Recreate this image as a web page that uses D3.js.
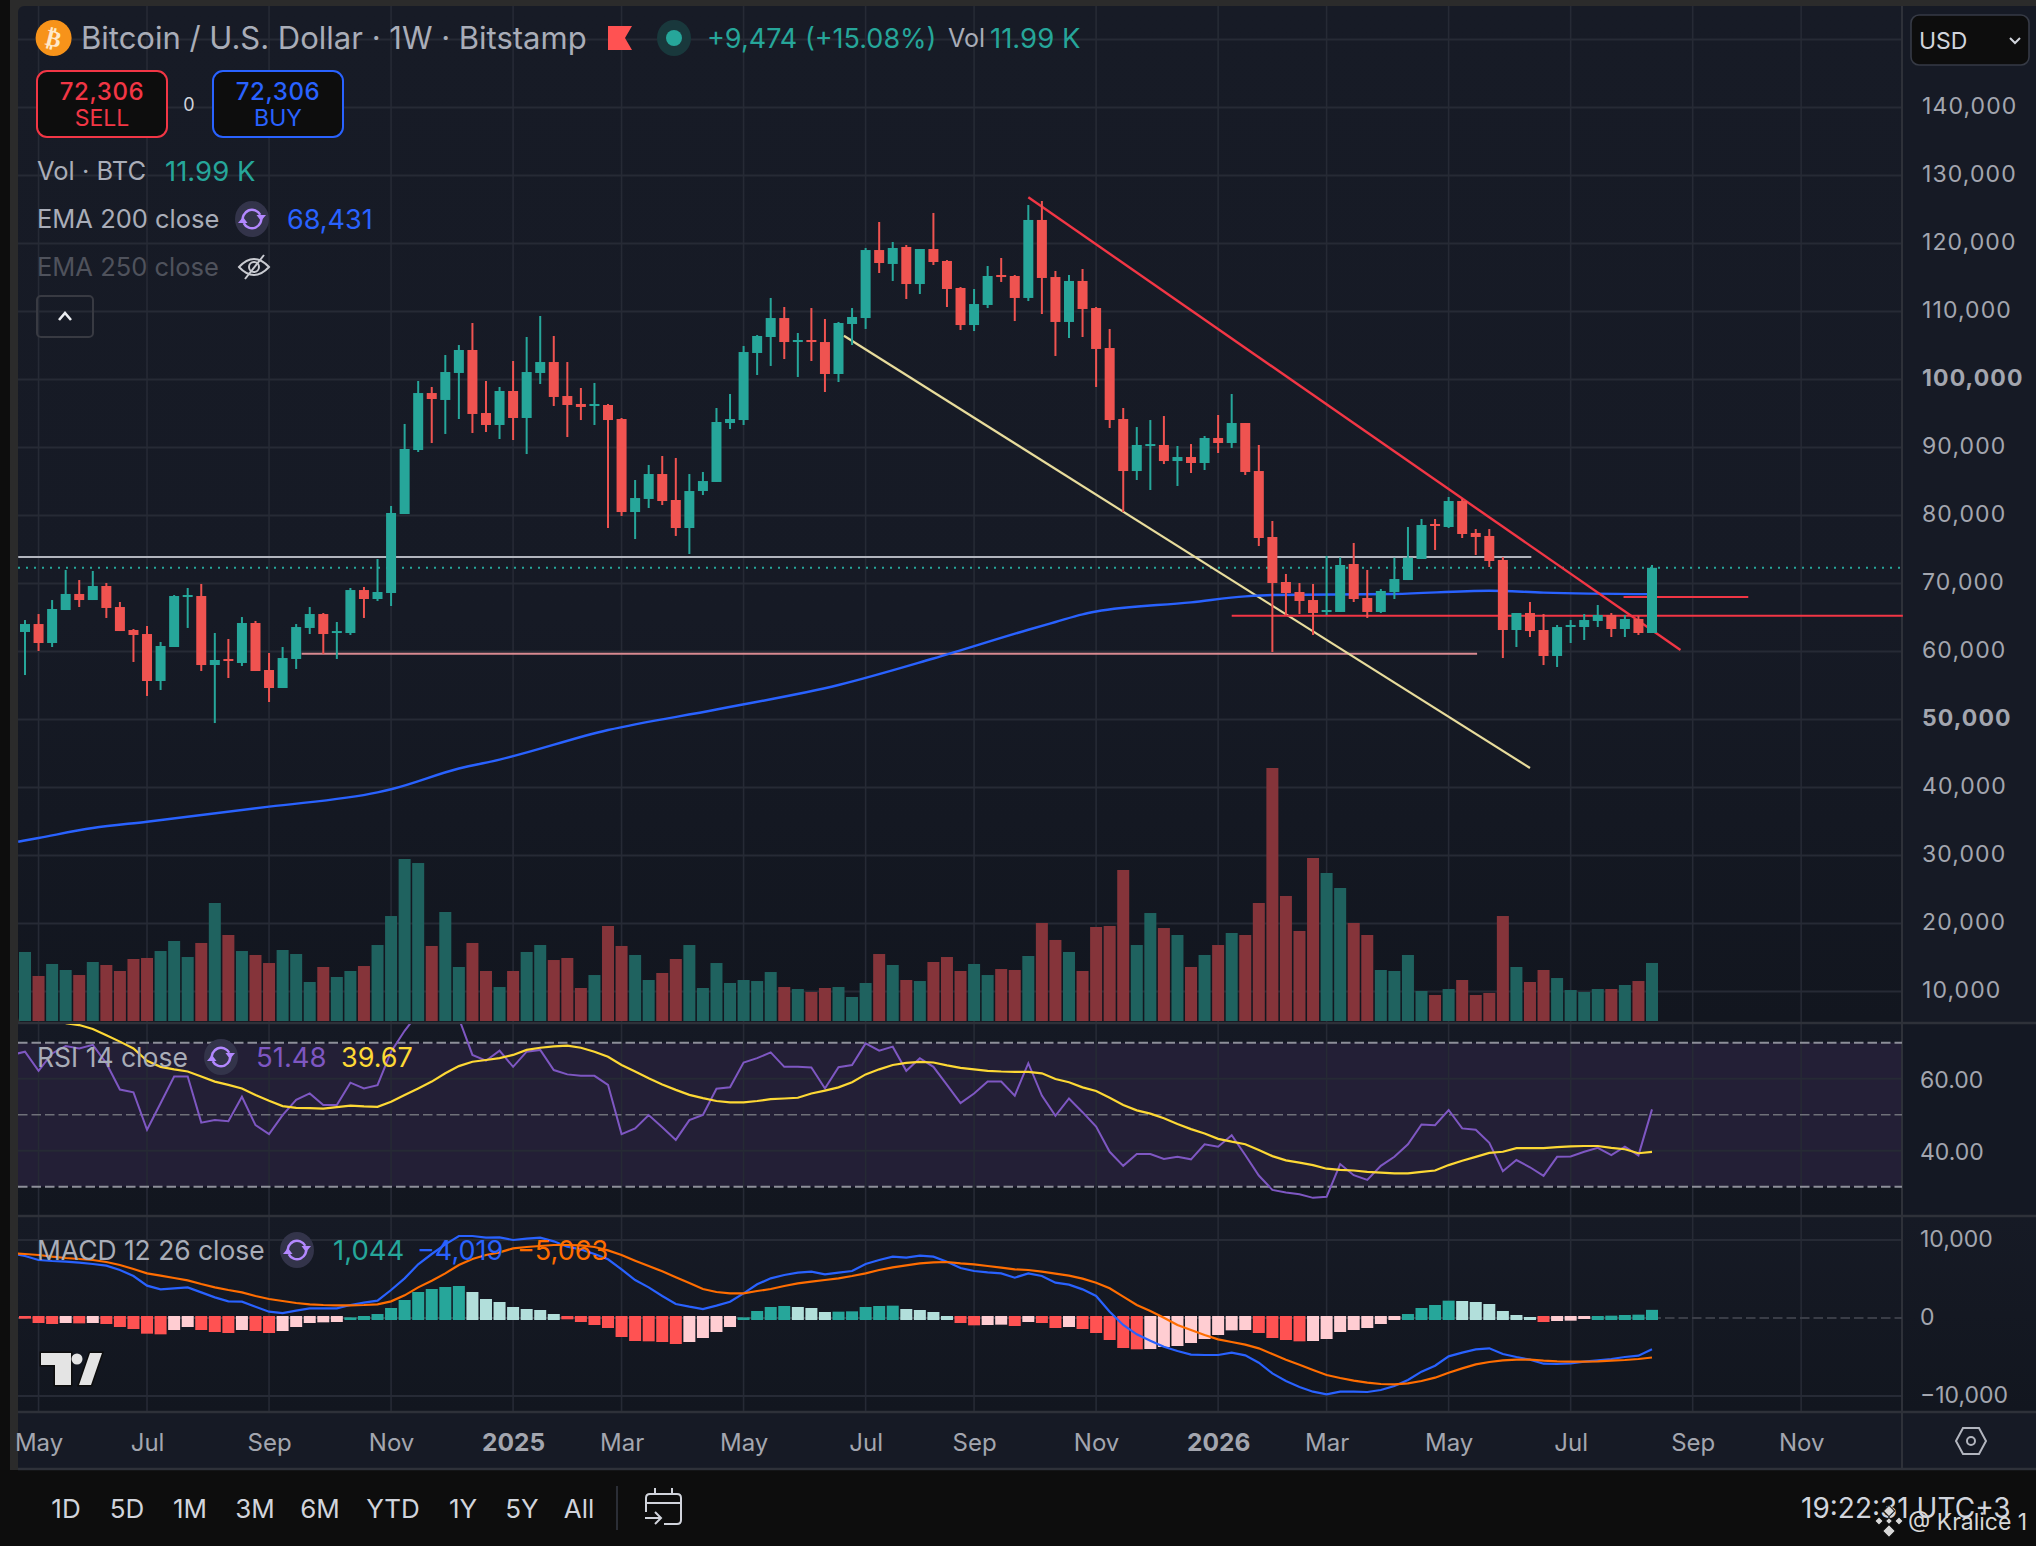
<!DOCTYPE html>
<html>

<head>
  <meta charset="utf-8">
  <script src="https://d3js.org/d3.v7.min.js"></script>
  <title>Bitcoin / U.S. Dollar</title>
  <style>
    body {
      margin: 0;
      background: #0d0d0d;
    }

    svg {
      display: block;
    }

    text {
      font-family: 'Inter', sans-serif;
    }

    .axis text {
      font-size: 23px;
      fill: #a3a6af;
    }

    .axis path,
    .axis line {
      display: none;
    }
  </style>
</head>

<body>

  <div id="chart"></div>

  <script>
    // weekly candles, one value per week
    const open = [62870, 64040, 61250, 66100, 68460, 67570, 69630, 66540, 63160, 62570, 55660, 60660, 68010, 68160, 58010, 58900, 58310, 64190, 57280, 54630, 58900, 63460, 65510, 62720, 62720, 69040, 67720, 68600, 80220, 89630, 98010, 96990, 100960, 104340, 95070, 93310, 98310, 94340, 100960, 102570, 97570, 96400, 96100, 96250, 94190, 80510, 82430, 86100, 82280, 78160, 83600, 84930, 93600, 94040, 103900, 106250, 109040, 105510, 105810, 105510, 100810, 108160, 109040, 119040, 116990, 119490, 114040, 119190, 117430, 113460, 108010, 110960, 115370, 115220, 111990, 123460, 115070, 108460, 114490, 110510, 104630, 94190, 86540, 90220, 90370, 88010, 88600, 87720, 91400, 90660, 93600, 86540, 76840, 70220, 68750, 67570, 65810, 65810, 72870, 67870, 65810, 68750, 70510, 73600, 78750, 78310, 82130, 77430, 76990, 73460, 63160, 65660, 63160, 59340, 63600, 63600, 64490, 65370, 63310, 64780, 62720];
    const high = [64630, 65510, 67570, 71990, 70510, 71840, 70070, 67280, 63310, 63750, 61400, 68310, 69340, 69930, 62720, 61840, 65070, 64490, 59780, 60660, 64040, 66540, 65660, 64340, 69340, 69490, 73600, 81400, 93460, 99780, 98900, 103600, 105070, 108310, 99780, 98900, 102720, 106250, 109340, 106400, 102570, 98750, 99490, 96400, 94340, 85220, 87430, 88750, 88460, 86100, 86400, 95810, 97870, 104930, 106540, 111990, 110660, 106840, 110510, 108900, 108460, 110510, 119340, 123160, 120220, 119780, 119190, 124490, 117570, 113600, 113310, 116690, 117870, 115370, 125660, 126250, 115960, 115370, 116250, 110660, 107430, 95810, 93010, 94040, 94630, 90220, 90510, 91690, 94780, 97870, 93600, 90370, 79190, 71400, 70070, 69930, 74040, 73850, 75960, 71990, 69190, 73800, 78310, 79490, 79490, 82720, 82430, 78010, 78010, 73900, 65660, 67280, 65510, 63900, 64630, 65510, 66840, 65660, 65370, 65220, 72720];
    const low = [56540, 60070, 60660, 66100, 66540, 67570, 64930, 63010, 58460, 53460, 54340, 60660, 63460, 57130, 49480, 56100, 57870, 57130, 52570, 54630, 57430, 62570, 59630, 58900, 62430, 64930, 67430, 66690, 80220, 89340, 90660, 91990, 94190, 92130, 92280, 91250, 91100, 89040, 99340, 96100, 91540, 94040, 93310, 78160, 79930, 76540, 81100, 81540, 76990, 74340, 83010, 84930, 92720, 93310, 100660, 101990, 103010, 100370, 102720, 98160, 99630, 105070, 107430, 115660, 114490, 111840, 112570, 116840, 110660, 107280, 107130, 110510, 114340, 108600, 111540, 109630, 103460, 106100, 106250, 98900, 92870, 80510, 85220, 83750, 87570, 84340, 86250, 86690, 89190, 89930, 85960, 75510, 59930, 65370, 65510, 62430, 65370, 65810, 67280, 64930, 65660, 67720, 70510, 73600, 74930, 78160, 76690, 74190, 72430, 59040, 60660, 62130, 58010, 57720, 61250, 61690, 63600, 62130, 62130, 62430, 62720];
    const close = [64040, 61250, 66250, 68460, 67570, 69630, 66400, 63010, 62430, 55660, 60810, 68160, 68310, 58010, 58750, 58600, 64190, 57130, 54630, 59040, 63600, 65510, 62570, 63010, 69040, 67720, 68750, 80370, 89780, 98010, 97130, 101100, 104340, 94930, 93310, 98310, 94340, 101100, 102570, 97430, 96250, 95960, 96400, 94040, 80510, 82570, 86100, 82130, 78160, 83600, 85070, 93750, 94190, 104040, 106400, 109040, 105510, 105810, 105510, 100810, 108310, 109190, 119040, 117130, 119340, 114040, 119190, 117280, 113310, 108010, 111100, 115220, 115070, 111990, 123460, 114930, 108460, 114490, 110370, 104490, 94040, 86540, 90370, 90510, 88010, 88600, 87720, 91400, 90660, 93600, 86400, 76690, 70070, 68600, 67430, 65660, 66100, 72720, 67720, 65810, 68900, 70660, 73800, 78600, 78460, 82130, 77280, 76840, 73310, 63160, 65660, 63010, 59340, 63600, 63900, 64630, 65370, 63310, 64780, 62720, 72306];
    // volume in thousands of BTC
    const volume = [14.26, 9.3, 11.78, 10.54, 9.5, 12.19, 11.57, 10.33, 12.81, 13.02, 14.46, 16.53, 13.22, 16.12, 24.38, 17.77, 14.46, 13.64, 11.98, 14.67, 13.84, 8.06, 11.16, 9.09, 10.33, 11.36, 15.7, 21.69, 33.47, 32.64, 15.5, 22.52, 11.16, 16.12, 10.33, 7.02, 10.33, 14.26, 15.7, 12.6, 13.02, 6.82, 9.5, 19.63, 15.5, 13.64, 8.47, 9.92, 12.81, 15.7, 6.82, 11.98, 7.85, 8.47, 8.26, 10.12, 7.02, 6.61, 5.99, 6.82, 7.02, 4.96, 7.85, 13.84, 11.57, 8.47, 8.26, 12.19, 13.22, 10.33, 11.78, 9.5, 10.74, 10.54, 13.43, 20.25, 16.74, 14.26, 10.33, 19.42, 19.63, 31.2, 15.7, 22.31, 19.21, 17.77, 11.16, 13.64, 15.7, 18.18, 17.77, 24.38, 52.27, 25.83, 18.6, 33.68, 30.58, 27.48, 20.25, 17.77, 10.54, 10.33, 13.64, 6.2, 5.37, 6.61, 8.47, 5.37, 5.79, 21.69, 11.16, 8.06, 10.54, 8.88, 6.4, 5.99, 6.61, 6.61, 7.44, 8.26, 11.99];

    // EMA 200 read at these weeks
    const emaWeek = [-0.5, 1, 5, 9, 18, 26, 27, 32, 35, 43, 51, 60, 67, 74, 76, 78, 79, 86, 90, 92, 101, 108, 112, 120];
    const emaValue = [32030, 32580, 34040, 34970, 37180, 39290, 39740, 42790, 44100, 48450, 51470, 55070, 58970, 63200, 64340, 65470, 65880, 67230, 68100, 68310, 68460, 68940, 68660, 68431];

    // the indicator lists start one week before the first candle, the pane cuts that week off
    const rsi = [66.6, 67.5, 62.2, 67, 69.1, 68.4, 69.4, 64.3, 57, 56.2, 45.8, 53.2, 60.6, 60.6, 47.8, 48.5, 48.2, 55, 47.1, 44.6, 49.9, 54.1, 55.9, 52.7, 52.7, 58.9, 57.3, 58.2, 67.5, 73.3, 78.2, 79.1, 78.2, 76.8, 66.6, 65, 67.8, 63.3, 67.5, 68, 62.4, 61.2, 60.8, 60.8, 58.3, 44.6, 46.2, 49.9, 46.5, 43, 48.5, 49.9, 57.2, 57.6, 64.5, 65.7, 67.3, 63.3, 63.3, 63.1, 57.3, 63.2, 63.8, 69.8, 67.8, 68.9, 62.2, 65.7, 63.3, 58.3, 53.2, 55.9, 59.2, 59.2, 55.3, 64.3, 55.3, 49.7, 54.5, 50.7, 46.7, 39.7, 35.8, 39.1, 39.1, 37.7, 38.3, 37.6, 41.8, 41.1, 44.3, 38.8, 33.1, 29.1, 28.4, 27.9, 26.9, 27.2, 36.3, 33.2, 31.9, 35.8, 38.3, 41.8, 47.3, 47.1, 51.3, 46.2, 45.8, 42.2, 34.3, 37.4, 35.4, 33, 38.3, 38.4, 39.7, 40.8, 38.8, 41.1, 38.7, 51.48];
    // the RSI average is above the pane before week 3
    const rsiMaFirstWeek = 3;
    const rsiMa = [75.4, 74.9, 73.8, 72.1, 70.3, 68.4, 65, 63.3, 62.6, 62, 60.6, 59.2, 58.3, 57.3, 55.5, 53.9, 52.4, 51.9, 51.8, 51.7, 52.1, 52.5, 52.3, 52.2, 53.6, 55.5, 57.3, 59.2, 61.5, 63.5, 64.7, 65.2, 65.7, 66.6, 68, 68.6, 69, 69.2, 68.6, 67.5, 66.1, 63.8, 62, 60.1, 58.4, 56.9, 55.5, 54.6, 53.8, 53.4, 53.4, 53.8, 54.3, 54.5, 54.7, 55.9, 56.7, 57.6, 59, 61.2, 62.6, 63.8, 64.4, 64.7, 64.5, 63.7, 63, 62.6, 62.2, 62, 61.9, 61.9, 61.5, 59.9, 59, 57.6, 56.6, 54.7, 52.7, 51.2, 50.3, 49, 47.4, 46, 44.8, 43.3, 42.5, 41.8, 40.2, 38.5, 37.3, 36.7, 36, 35, 34.7, 34.5, 34.1, 33.9, 33.7, 33.7, 34.1, 34.5, 36, 37.2, 38.3, 39.4, 39.7, 40.7, 40.7, 40.7, 41, 41.2, 41.3, 41.3, 40.8, 40.4, 39.3, 39.67];

    const macd = [8290, 7948, 7435, 7307, 7221, 7093, 6922, 6708, 6153, 5383, 4144, 3674, 3802, 3930, 3289, 2648, 2135, 2092, 1451, 810, 639, 939, 1238, 1238, 1238, 1665, 1964, 2221, 3588, 5084, 6879, 8204, 9444, 10512, 10512, 10299, 10341, 10000, 10170, 10299, 9828, 9145, 8803, 8204, 7521, 6238, 4871, 3930, 2819, 1793, 1451, 1152, 1580, 2092, 3161, 4315, 5084, 5512, 5811, 5939, 5597, 5811, 6025, 6922, 7435, 7862, 7734, 7991, 7862, 7221, 6409, 6025, 5854, 5725, 5170, 5725, 5384, 4529, 4272, 3674, 2819, 810, -899, -2096, -2908, -3677, -4233, -4703, -4746, -4746, -4447, -4789, -5729, -7097, -8080, -8849, -9447, -9789, -9447, -9447, -9490, -9234, -8721, -7951, -6883, -6113, -4917, -4447, -4019, -3891, -4618, -5003, -5344, -5857, -5900, -5814, -5601, -5430, -5259, -5003, -4832, -4019];
    const signal = [8290, 8204, 8076, 7862, 7691, 7563, 7435, 7179, 6794, 6281, 5725, 5426, 5127, 4828, 4358, 3930, 3588, 3289, 2819, 2434, 2178, 1921, 1751, 1665, 1622, 1622, 1665, 1751, 2135, 2905, 3930, 4785, 5725, 6794, 7563, 8076, 8418, 8931, 9102, 9230, 9358, 9358, 9316, 9102, 8674, 8076, 7350, 6666, 5982, 5213, 4486, 3717, 3332, 3161, 3161, 3460, 3717, 4101, 4443, 4657, 4871, 5084, 5384, 5725, 6153, 6495, 6751, 7008, 7136, 7179, 7008, 6879, 6666, 6452, 6238, 6153, 5939, 5683, 5426, 5042, 4529, 3802, 2734, 1665, 896, 41, -899, -1540, -2182, -2737, -3079, -3421, -3891, -4618, -5344, -5985, -6669, -7310, -7695, -8037, -8293, -8464, -8507, -8379, -8080, -7652, -7011, -6456, -5943, -5643, -5430, -5344, -5344, -5473, -5558, -5601, -5601, -5558, -5473, -5387, -5259, -5063];
    const macdHist = [-85, -641, -769, -641, -684, -641, -769, -1154, -1410, -2009, -2094, -1539, -1154, -1539, -1795, -1923, -1539, -1667, -1923, -1667, -1154, -641, -556, -513, 85, 256, 513, 1282, 2308, 3334, 3718, 3975, 4103, 3334, 2436, 2052, 1410, 1154, 1026, 513, -171, -513, -898, -1282, -2436, -2949, -2992, -3077, -3334, -3077, -2564, -1795, -1154, 85, 898, 1410, 1539, 1410, 1282, 769, 812, 855, 1410, 1539, 1581, 1154, 1026, 769, 256, -641, -940, -898, -855, -1026, -513, -641, -1282, -1154, -1410, -1923, -2821, -3847, -4018, -3975, -3718, -3590, -3206, -2693, -2180, -1581, -1539, -1923, -2564, -2821, -2992, -2949, -2693, -1795, -1539, -1282, -769, -256, 513, 1282, 1667, 2222, 2180, 2052, 1795, 898, 385, 128, -513, -385, -342, -128, 256, 299, 385, 427, 1044];

    // axis ticks
    const priceTicks = [140000, 130000, 120000, 110000, 100000, 90000, 80000, 70000, 60000, 50000, 40000, 30000, 20000, 10000];
    const boldPrices = [100000, 50000];
    const rsiTicks = [60, 40];
    const macdTicks = [10000, 0, -10000];
    const monthWeeks = [1, 9, 18, 27, 36, 44, 53, 62, 70, 79, 88, 96, 105, 114, 123, 131];
    const monthLabels = ["May", "Jul", "Sep", "Nov", "2025", "Mar", "May", "Jul", "Sep", "Nov", "2026", "Mar", "May", "Jul", "Sep", "Nov"];
    const rangeLabels = ["1D", "5D", "1M", "3M", "6M", "YTD", "1Y", "5Y", "All"];

    // drawn levels and trend lines: [week, price, week, price]
    const lastPrice = 72306;
    const whiteLevel = [-0.5, 73900, 111.1, 73900];
    const pinkLevel = [20.4, 59680, 107.1, 59680];
    const redLevel = [89, 65265, 138.5, 65265];
    const shortLevel = [117.9, 68015, 127.1, 68015];
    const redTrend = [74, 126800, 122.1, 60220];
    const yellowTrend = [60.4, 106440, 111, 42870];

    const up = "#26a69a", down = "#ef5350";
    const width = 2036, height = 1546;
    const left = 18, axisX = 1902;

    const x = d3.scaleLinear().domain([0, 120]).range([25, 1652]);
    const yPrice = d3.scaleLinear().domain([10000, 150000]).range([991.5, 39.5]);
    const yVol = d3.scaleLinear().domain([0, 52.27]).range([1021, 768]);
    const yRsi = d3.scaleLinear().domain([30, 70]).range([1186.7, 1042.7]);
    const yMacd = d3.scaleLinear().domain([-10000, 10000]).range([1396, 1240]);
    const weeks = d3.range(close.length);

    const svg = d3.select("#chart").append("svg")
      .attr("width", width)
      .attr("height", height);

    const defs = svg.append("defs");

    function gradient(id, stops) {
      const g = defs.append("linearGradient").attr("id", id)
        .attr("x1", 0).attr("x2", 0).attr("y1", 0).attr("y2", 1);
      stops.forEach(function (s) {
        g.append("stop").attr("offset", s[0]).attr("stop-color", s[1]);
      });
    }
    gradient("bgPrice", [[0, "#171b26"], [0.6, "#161a25"], [1, "#12161f"]]);
    gradient("bgRsi", [[0, "#151924"], [1, "#12161f"]]);
    gradient("bgMacd", [[0, "#161a25"], [1, "#12161f"]]);

    defs.append("clipPath").attr("id", "rsiClip").append("rect")
      .attr("x", left).attr("y", 1024).attr("width", axisX - left).attr("height", 192);
    defs.append("clipPath").attr("id", "macdClip").append("rect")
      .attr("x", left).attr("y", 1217).attr("width", axisX - left).attr("height", 194);

    // page frame
    svg.append("rect").attr("x", 0).attr("y", 0).attr("width", width).attr("height", height).attr("fill", "#0d0d0d");
    svg.append("rect").attr("x", 10).attr("y", 0).attr("width", width).attr("height", 1470).attr("fill", "#2b2b2b");
    svg.append("rect").attr("x", left).attr("y", 6).attr("width", width - left).attr("height", 1017).attr("fill", "url(#bgPrice)").attr("rx", 6);
    svg.append("rect").attr("x", left).attr("y", 1024).attr("width", width - left).attr("height", 191).attr("fill", "url(#bgRsi)");
    svg.append("rect").attr("x", left).attr("y", 1217).attr("width", width - left).attr("height", 194).attr("fill", "url(#bgMacd)");
    svg.append("rect").attr("x", left).attr("y", 1413).attr("width", width - left).attr("height", 55).attr("fill", "#161a25");
    svg.append("rect").attr("x", axisX).attr("y", 6).attr("width", width - axisX).attr("height", 1017).attr("fill", "#161a25");
    svg.append("rect").attr("x", axisX).attr("y", 1024).attr("width", width - axisX).attr("height", 191).attr("fill", "#141823");
    svg.append("rect").attr("x", left).attr("y", 1470).attr("width", width - left).attr("height", 76).attr("fill", "#0d0d0d");

    // RSI band
    svg.append("rect")
      .attr("x", left).attr("width", axisX - left)
      .attr("y", yRsi(70)).attr("height", yRsi(30) - yRsi(70))
      .attr("fill", "#231f36");

    // grid
    const grid = svg.append("g").attr("stroke", "#262a35").attr("stroke-width", 2);
    grid.selectAll(".vgrid").data(monthWeeks).enter().append("line")
      .attr("x1", function (d) { return x(d); }).attr("x2", function (d) { return x(d); })
      .attr("y1", 6).attr("y2", 1411)
      .attr("stroke-width", 1.6);
    grid.selectAll(".pgrid").data(priceTicks.concat([150000])).enter().append("line")
      .attr("x1", left).attr("x2", axisX)
      .attr("y1", function (d) { return yPrice(d); }).attr("y2", function (d) { return yPrice(d); });
    grid.selectAll(".rgrid").data(rsiTicks).enter().append("line")
      .attr("x1", left).attr("x2", axisX)
      .attr("y1", function (d) { return yRsi(d); }).attr("y2", function (d) { return yRsi(d); });
    grid.selectAll(".mgrid").data([10000, -10000]).enter().append("line")
      .attr("x1", left).attr("x2", axisX)
      .attr("y1", function (d) { return yMacd(d); }).attr("y2", function (d) { return yMacd(d); });

    // pane separators
    const seps = svg.append("g").attr("stroke", "#2e3139").attr("stroke-width", 2.4);
    [1023, 1216, 1412, 1469].forEach(function (y) {
      seps.append("line").attr("x1", left).attr("x2", width).attr("y1", y).attr("y2", y);
    });
    seps.append("line").attr("x1", axisX).attr("x2", axisX).attr("y1", 6).attr("y2", 1469).attr("stroke-width", 2);

    // volume
    svg.append("g").selectAll("rect").data(weeks).enter().append("rect")
      .attr("x", function (d) { return x(d) - 6; })
      .attr("width", 12)
      .attr("y", function (d) { return yVol(volume[d]); })
      .attr("height", function (d) { return yVol(0) - yVol(volume[d]); })
      .attr("fill", function (d) { return close[d] >= open[d] ? "#1f625f" : "#85343a"; });

    // drawn lines go under the candles
    const priceLine = svg.append("g").attr("fill", "none");

    function drawing(seg, colour, w) {
      priceLine.append("line")
        .attr("x1", x(seg[0])).attr("y1", yPrice(seg[1]))
        .attr("x2", x(seg[2])).attr("y2", yPrice(seg[3]))
        .attr("stroke", colour).attr("stroke-width", w);
    }

    priceLine.append("line")
      .attr("x1", left).attr("x2", axisX)
      .attr("y1", yPrice(lastPrice)).attr("y2", yPrice(lastPrice))
      .attr("stroke", up).attr("stroke-width", 2).attr("stroke-dasharray", "2,6");

    drawing(whiteLevel, "#b2b5be", 2);
    drawing(pinkLevel, "#d98a91", 2);
    drawing(yellowTrend, "#e8dc9c", 2.2);
    drawing(redLevel, "#f23645", 2);
    drawing(shortLevel, "#f23645", 2);

    const emaLine = d3.line()
      .x(function (d, i) { return x(emaWeek[i]); })
      .y(function (d) { return yPrice(d); })
      .curve(d3.curveMonotoneX);

    priceLine.append("path")
      .attr("d", emaLine(emaValue))
      .attr("stroke", "#2962ff").attr("stroke-width", 2.4);

    drawing(redTrend, "#f23645", 2.4);

    // candles
    const candle = svg.append("g").selectAll("g").data(weeks).enter().append("g")
      .attr("fill", function (d) { return close[d] >= open[d] ? up : down; });

    candle.append("rect")
      .attr("x", function (d) { return x(d) - 1; })
      .attr("width", 2)
      .attr("y", function (d) { return yPrice(high[d]); })
      .attr("height", function (d) { return yPrice(low[d]) - yPrice(high[d]); });

    candle.append("rect")
      .attr("x", function (d) { return x(d) - 5; })
      .attr("width", 10)
      .attr("y", function (d) { return yPrice(Math.max(open[d], close[d])); })
      .attr("height", function (d) { return Math.max(2, Math.abs(yPrice(open[d]) - yPrice(close[d]))); });

    // RSI pane
    function hline(scale, value, colour, dash, w) {
      svg.append("line")
        .attr("x1", left).attr("x2", axisX)
        .attr("y1", scale(value)).attr("y2", scale(value))
        .attr("stroke", colour).attr("stroke-width", w)
        .attr("stroke-dasharray", dash);
    }
    hline(yRsi, 70, "#8d8f99", "9.5,4", 2);
    hline(yRsi, 50, "#6f7079", "9.5,4", 1.4);
    hline(yRsi, 30, "#8d8f99", "9.5,4", 2);

    const weekLine = function (scale, first) {
      return d3.line()
        .x(function (d, i) { return x(i + first); })
        .y(function (d) { return scale(d); });
    };

    const rsiG = svg.append("g").attr("clip-path", "url(#rsiClip)").attr("fill", "none");
    rsiG.append("path").attr("d", weekLine(yRsi, -1)(rsi))
      .attr("stroke", "#7e57c2").attr("stroke-width", 2);
    rsiG.append("path").attr("d", weekLine(yRsi, rsiMaFirstWeek)(rsiMa))
      .attr("stroke", "#fdd835").attr("stroke-width", 2.2);

    // MACD pane
    hline(yMacd, 0, "#3a3d47", "9.5,4", 2);

    svg.append("g").selectAll("rect").data(weeks).enter().append("rect")
      .attr("x", function (d) { return x(d) - 6; })
      .attr("width", 12)
      .attr("y", function (d) { return macdHist[d] >= 0 ? yMacd(macdHist[d]) : yMacd(0) - 2; })
      .attr("height", function (d) { return Math.abs(yMacd(macdHist[d]) - yMacd(0)) + 2; })
      .attr("fill", function (d) {
        const prev = d > 0 ? macdHist[d - 1] : 0;
        if (macdHist[d] >= 0) return macdHist[d] >= prev ? up : "#b2dfdb";
        return macdHist[d] < prev ? "#ff5252" : "#ffcdd2";
      });

    const macdG = svg.append("g").attr("clip-path", "url(#macdClip)").attr("fill", "none");
    macdG.append("path").attr("d", weekLine(yMacd, -1)(macd))
      .attr("stroke", "#2962ff").attr("stroke-width", 2.2);
    macdG.append("path").attr("d", weekLine(yMacd, -1)(signal))
      .attr("stroke", "#ff6d00").attr("stroke-width", 2.2);

    // axes
    svg.append("g").attr("class", "axis")
      .attr("transform", "translate(1908,-1)")
      .call(d3.axisRight(yPrice).tickValues(priceTicks).tickFormat(d3.format(",")).tickSize(0).tickPadding(14))
      .selectAll("text")
      .style("font-weight", function (d) { return boldPrices.includes(d) ? 700 : 400; })
      .style("letter-spacing", "1.1px");

    svg.append("g").attr("class", "axis")
      .attr("transform", "translate(1908,1)")
      .call(d3.axisRight(yRsi).tickValues(rsiTicks).tickFormat(d3.format(".2f")).tickSize(0).tickPadding(12));

    svg.append("g").attr("class", "axis")
      .attr("transform", "translate(1908,-1)")
      .call(d3.axisRight(yMacd).tickValues(macdTicks).tickFormat(d3.format(",")).tickSize(0).tickPadding(12));

    svg.append("g").attr("class", "axis")
      .attr("transform", "translate(0,1433.5)")
      .call(d3.axisBottom(x).tickValues(monthWeeks).tickFormat(function (d, i) { return monthLabels[i]; }).tickSize(0).tickPadding(0))
      .selectAll("text")
      .style("font-size", function (d, i) { return monthLabels[i].length == 4 ? "24.5px" : "24px"; })
      .style("font-weight", function (d, i) { return monthLabels[i].length == 4 ? 700 : 400; });

    // legends
    function label(px, py, str, colour, size, weight, anchor) {
      return svg.append("text")
        .attr("x", px).attr("y", py).attr("dy", "0.36em")
        .attr("text-anchor", anchor || "start")
        .attr("fill", colour)
        .attr("font-size", size)
        .attr("font-weight", weight || 400)
        .text(str);
    }

    function reloadIcon(cx, cy, ry) {
      const g = svg.append("g").attr("transform", "translate(" + cx + "," + cy + ")");
      g.append("ellipse").attr("rx", 17).attr("ry", ry).attr("fill", "#33344a");
      const arc = d3.arc().innerRadius(8).outerRadius(10.5);
      g.append("path").attr("d", arc({ startAngle: -1.9, endAngle: 1.1 })).attr("fill", "#b388ff");
      g.append("path").attr("d", arc({ startAngle: 1.25, endAngle: 4.25 })).attr("fill", "#b388ff");
      g.append("path").attr("d", "M4.5,-4 L14,-4 L9,2 Z").attr("fill", "#b388ff");
      g.append("path").attr("d", "M-4.5,4 L-14,4 L-9,-2 Z").attr("fill", "#b388ff");
    }

    // bitcoin badge
    svg.append("ellipse").attr("cx", 53.6).attr("cy", 38).attr("rx", 18).attr("ry", 18).attr("fill", "#f7931a");
    svg.append("text")
      .attr("transform", "translate(53.6,38) rotate(14)")
      .attr("dy", "0.36em").attr("text-anchor", "middle")
      .attr("fill", "#ffe9c9").attr("font-size", 23).attr("font-weight", 700)
      .style("font-family", "'DejaVu Sans'")
      .text("₿");

    label(81, 38, "Bitcoin / U.S. Dollar · 1W · Bitstamp", "#a9adb8", 31);
    svg.append("path").attr("d", "M608,26 H632 L625,38 L632,50 H608 Z").attr("fill", "#ff5252");
    svg.append("ellipse").attr("cx", 674).attr("cy", 38).attr("rx", 17).attr("ry", 18).attr("fill", "#19383c");
    svg.append("ellipse").attr("cx", 674).attr("cy", 38).attr("rx", 8).attr("ry", 8).attr("fill", up);
    label(707, 38, "+9,474 (+15.08%)", up, 27);
    label(948, 38, "Vol", "#a9adb8", 25);
    label(990, 38, "11.99 K", up, 27.5);

    // sell and buy boxes
    function orderBox(bx, colour, price, side) {
      svg.append("rect").attr("x", bx).attr("y", 71).attr("width", 130).attr("height", 66).attr("rx", 10)
        .attr("fill", "#0d0d0d").attr("stroke", colour).attr("stroke-width", 2);
      label(bx + 65, 91, price, colour, 24, 500, "middle").style("letter-spacing", "0.6px");
      label(bx + 65, 118, side, colour, 23, 400, "middle");
    }
    orderBox(37, "#f23645", "72,306", "SELL");
    label(189, 105, "0", "#d1d4dc", 18, 400, "middle");
    orderBox(213, "#2962ff", "72,306", "BUY");

    label(37, 171, "Vol · BTC", "#a9adb8", 25.5);
    label(165, 171, "11.99 K", up, 27.5);
    label(37, 219, "EMA 200 close", "#a9adb8", 25.5);
    reloadIcon(252, 219, 18);
    label(287, 219, "68,431", "#2962ff", 27);
    label(37, 267, "EMA 250 close", "#4f525c", 25.5);

    // hidden eye
    const eye = svg.append("g").attr("transform", "translate(254,267)")
      .attr("fill", "none").attr("stroke", "#c9cbd1").attr("stroke-width", 2);
    eye.append("path").attr("d", "M-15,0 Q0,-16 15,0 Q0,16 -15,0 Z");
    eye.append("circle").attr("r", 5);
    eye.append("line").attr("x1", -9).attr("y1", 12).attr("x2", 10).attr("y2", -12);

    svg.append("rect").attr("x", 37).attr("y", 296).attr("width", 56).attr("height", 41).attr("rx", 4)
      .attr("fill", "none").attr("stroke", "#383a42").attr("stroke-width", 2);
    svg.append("path").attr("d", "M59,320 L65,313 L71,320").attr("fill", "none").attr("stroke", "#eceef2").attr("stroke-width", 2.6);

    // currency box
    svg.append("rect").attr("x", 1911).attr("y", 15).attr("width", 118).attr("height", 50).attr("rx", 8)
      .attr("fill", "#0d0d0d").attr("stroke", "#363a45").attr("stroke-width", 1.6);
    label(1919, 41, "USD", "#d1d4dc", 23);
    svg.append("path").attr("d", "M2010,38 L2015,43 L2020,38").attr("fill", "none").attr("stroke", "#d1d4dc").attr("stroke-width", 2);

    // RSI and MACD legends
    label(37, 1057, "RSI 14 close", "#a9adb8", 26.5);
    reloadIcon(221, 1057, 18);
    label(256, 1057, "51.48", "#7e57c2", 27.5);
    label(341, 1057, "39.67", "#fdd835", 27);

    label(37, 1250, "MACD 12 26 close", "#a9adb8", 26.4);
    reloadIcon(297, 1250, 18);
    label(333, 1250, "1,044", up, 27.5);
    label(417, 1250, "−4,019", "#2962ff", 27);
    label(517, 1250, "−5,063", "#ff6d00", 27);

    // logo
    svg.append("path")
      .attr("d", "M41,1353 H71 V1385 H55 V1365 H41 Z M90,1353 H102 L91,1385 H79 Z")
      .attr("fill", "#e4e4e4").attr("stroke", "#0d0d0d").attr("stroke-width", 3).attr("paint-order", "stroke");
    svg.append("circle").attr("cx", 77).attr("cy", 1359).attr("r", 5.5).attr("fill", "#e4e4e4");

    // settings hexagon
    const hex = svg.append("g").attr("transform", "translate(1971,1441)")
      .attr("fill", "none").attr("stroke", "#b2b5be").attr("stroke-width", 2);
    hex.append("path").attr("d", "M-15,0 L-8,-13 H8 L15,0 L8,13 H-8 Z");
    hex.append("circle").attr("r", 4);

    // bottom toolbar
    const rangeX = [66, 127, 190, 255, 320, 393, 463, 522, 579];
    rangeLabels.forEach(function (t, i) {
      label(rangeX[i], 1509, t, "#d1d4dc", 26, 400, "middle");
    });
    svg.append("line").attr("x1", 617).attr("x2", 617).attr("y1", 1486).attr("y2", 1530).attr("stroke", "#363a45").attr("stroke-width", 1.5);

    const cal = svg.append("g").attr("fill", "none").attr("stroke", "#d1d4dc").attr("stroke-width", 2);
    cal.append("path").attr("d", "M646,1512 V1498 Q646,1494 650,1494 H677 Q681,1494 681,1498 V1520 Q681,1524 677,1524 H664");
    cal.append("path").attr("d", "M646,1503 H681 M655,1488 V1494 M672,1488 V1494");
    cal.append("path").attr("d", "M645,1518 H661 M655,1512 L661,1518 L655,1524");

    label(1801, 1508, "19:22:31 UTC+3", "#d1d4dc", 28);
    label(1908, 1522, "@ Kralice 1", "#d8d8d8", 23);

    // exchange mark next to the watermark
    const bin = svg.append("g").attr("fill", "#d8d8d8");
    [[0, -9, 8], [-10, 1, 6], [10, 1, 6], [0, 1, 5], [0, 11, 9]].forEach(function (p) {
      bin.append("rect")
        .attr("x", -p[2] / 2).attr("y", -p[2] / 2).attr("width", p[2]).attr("height", p[2])
        .attr("stroke", "#0d0d0d").attr("stroke-width", 1)
        .attr("transform", "translate(" + (1889 + p[0]) + "," + (1520 + p[1]) + ") rotate(45)");
    });
  </script>
</body>

</html>
